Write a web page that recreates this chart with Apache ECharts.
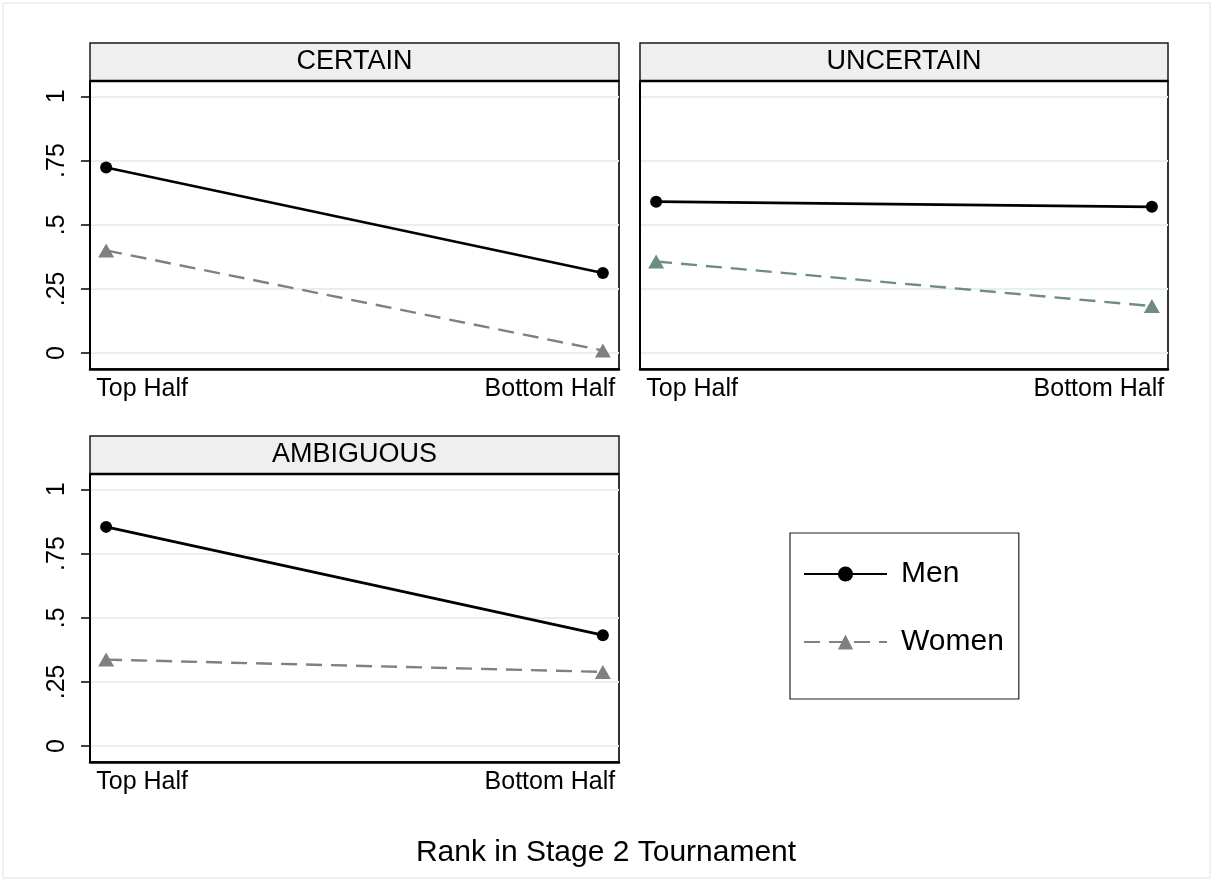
<!DOCTYPE html>
<html>
<head>
<meta charset="utf-8">
<script src="https://cdn.jsdelivr.net/npm/echarts@6/dist/echarts.min.js"></script>
<style>
  html, body { margin: 0; padding: 0; background: #fff; }
  #chart { width: 1212px; height: 880px; }
</style>
</head>
<body>
<div id="chart"></div>
<script>
// data
const panelNames = ['CERTAIN', 'UNCERTAIN', 'AMBIGUOUS']
const rankLabels = ['Top Half', 'Bottom Half']
const menValues = [[0.723, 0.312], [0.59, 0.57], [0.854, 0.432]]
const womenValues = [[0.40, 0.01], [0.357, 0.183], [0.337, 0.289]]
const yTicks = [0, 0.25, 0.5, 0.75, 1]

const FONT = 'Liberation Sans'
// panel plot areas (header strip sits above each one)
const boxes = [
  { left: 90, top: 81, width: 529, height: 288, yLabels: true },
  { left: 640, top: 81, width: 528, height: 288, yLabels: false },
  { left: 90, top: 474, width: 529, height: 288, yLabels: true }
]
const womenColors = ['#808080', '#6d8c84', '#808080']

const chart = echarts.init(document.getElementById('chart'))

const grids = [], xAxes = [], yAxes = [], series = [], graphics = []

boxes.forEach((b, i) => {
  grids.push({
    left: b.left, top: b.top, width: b.width, height: b.height,
    show: true, backgroundColor: '#fff', borderColor: '#333', borderWidth: 2
  })
  xAxes.push({
    gridIndex: i, type: 'value', min: -0.0325, max: 1.0325,
    axisLine: { onZero: false, lineStyle: { color: '#000', width: 2.5 } },
    axisTick: { show: false },
    splitLine: { show: false },
    axisLabel: {
      customValues: [0, 1],
      margin: 8,
      color: '#000', fontFamily: FONT, fontSize: 25,
      formatter: v => (v === 0 ? '{l|' : '{r|') + rankLabels[v] + '}',
      rich: {
        l: { fontFamily: FONT, fontSize: 25, color: '#000', padding: [0, 0, 0, 72] },
        r: { fontFamily: FONT, fontSize: 25, color: '#000', padding: [0, 106, 0, 0] }
      }
    }
  })
  yAxes.push({
    gridIndex: i, type: 'value', min: -0.062, max: 1.06,
    axisLine: { show: true, onZero: false, lineStyle: { color: '#000', width: 2 } },
    axisTick: { show: b.yLabels, customValues: yTicks, length: 9, lineStyle: { color: '#000', width: 1.5 } },
    splitLine: { show: true, lineStyle: { color: '#e6eff1', width: 2 } },
    axisLabel: {
      show: b.yLabels,
      customValues: yTicks, rotate: 90, margin: 20,
      color: '#000', fontFamily: FONT, fontSize: 25,
      formatter: v => (v === 0 || v === 1) ? String(v) : String(v).replace('0.', '.')
    }
  })
  series.push({
    name: 'Men', type: 'line', xAxisIndex: i, yAxisIndex: i,
    data: menValues[i].map((v, j) => [j, v]),
    symbol: 'circle', symbolSize: 12,
    itemStyle: { color: '#000' },
    lineStyle: { color: '#000', width: 2.8 },
    emphasis: { disabled: true }, z: 3
  })
  series.push({
    name: 'Women', type: 'line', xAxisIndex: i, yAxisIndex: i,
    data: womenValues[i].map((v, j) => [j, v]),
    symbol: 'triangle', symbolSize: [16, 14],
    itemStyle: { color: womenColors[i] },
    lineStyle: { color: womenColors[i], width: 2.4, type: [16, 9] },
    emphasis: { disabled: true }, z: 2
  })
  // strip header above the plot
  graphics.push({
    type: 'rect', shape: { x: b.left, y: b.top - 38, width: b.width, height: 38 },
    style: { fill: '#efefef', stroke: '#1a1a1a', lineWidth: 1.5 }, z: 10
  })
  graphics.push({
    type: 'line', shape: { x1: b.left, y1: b.top, x2: b.left + b.width, y2: b.top },
    style: { stroke: '#000', lineWidth: 2.5 }, z: 11
  })
  graphics.push({
    type: 'text', x: b.left + b.width / 2, y: b.top - 19,
    style: {
      text: panelNames[i], fill: '#000', font: '27px "' + FONT + '"',
      textAlign: 'center', textVerticalAlign: 'middle'
    }, z: 12
  })
})

// faint outer graph region border
graphics.push({
  type: 'rect', shape: { x: 3, y: 3, width: 1207, height: 875 },
  style: { fill: 'none', stroke: '#e6eef0', lineWidth: 1.5 }, z: 0
})

chart.setOption({
  animation: false,
  backgroundColor: '#fff',
  title: {
    text: 'Rank in Stage 2 Tournament', left: 'center', top: 838, padding: 0,
    textStyle: { fontFamily: FONT, fontSize: 30, fontWeight: 'normal', color: '#000' }
  },
  legend: {
    data: ['Men', 'Women'], orient: 'vertical', left: 790, top: 533,
    backgroundColor: '#fff', borderColor: '#222', borderWidth: 1.2,
    padding: [26, 15, 42, 13], itemWidth: 83, itemHeight: 19, itemGap: 38,
    selectedMode: false,
    textStyle: { fontFamily: FONT, fontSize: 30, lineHeight: 28, color: '#000', padding: [0, 0, 0, 9] }
  },
  grid: grids,
  xAxis: xAxes,
  yAxis: yAxes,
  series: series,
  graphic: graphics
})
</script>
</body>
</html>
